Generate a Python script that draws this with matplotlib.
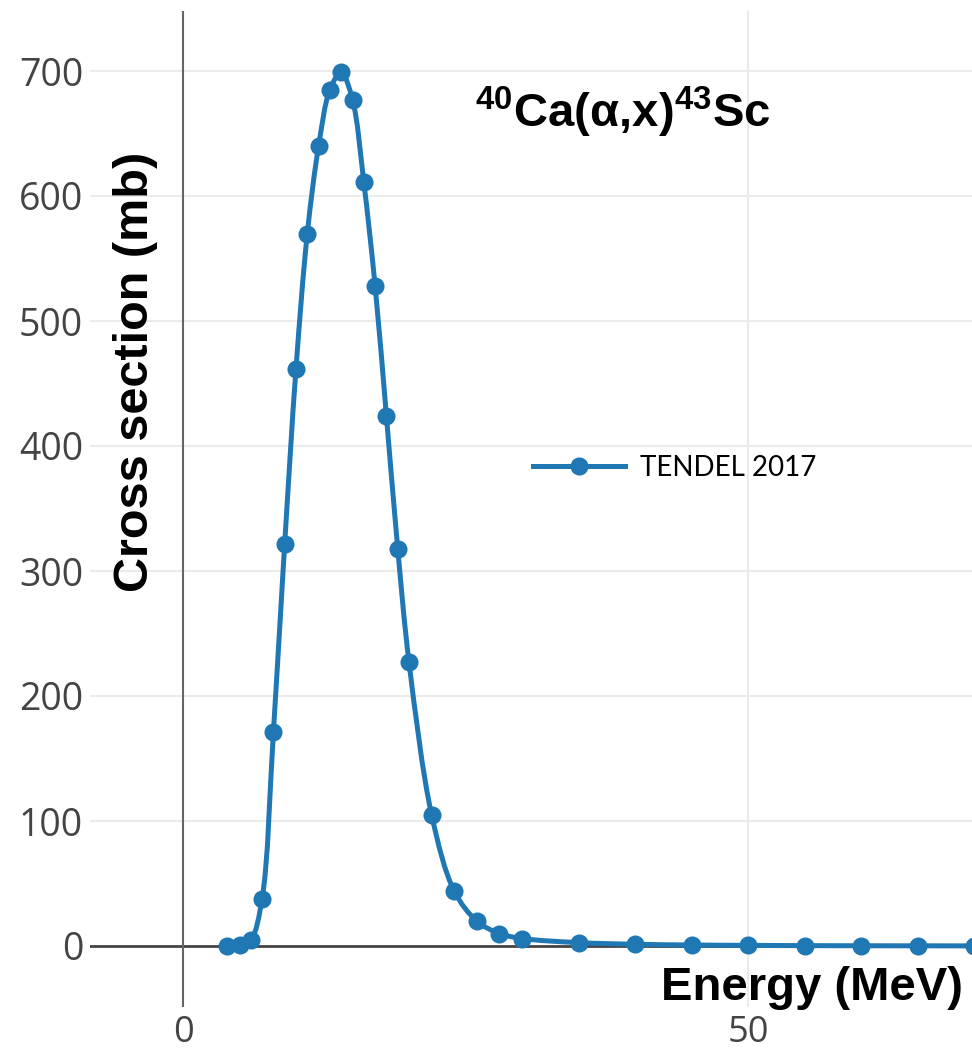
import numpy as np
import matplotlib
matplotlib.use("Agg")
import matplotlib.pyplot as plt
from matplotlib.path import Path
from matplotlib.patches import PathPatch
from matplotlib.lines import Line2D

energy = [3.9, 5, 6, 7, 8, 9, 10, 11, 12, 13, 14, 15, 16, 17, 18, 19, 20,
          22, 24, 26, 28, 30, 35, 40, 45, 50, 55, 60, 65, 70]
xs_mb = [0.1, 0.5, 5, 38, 171, 322, 462, 570, 640, 685, 699, 677, 611, 528, 424, 318, 227,
         105, 44, 20, 10, 6, 2.7, 1.4, 0.8, 0.5, 0.3, 0.2, 0.15, 0.1]
yticks = [0, 100, 200, 300, 400, 500, 600, 700]
xticks = [0, 50]
series_name = "TENDEL 2017"

plt.rcParams["font.family"] = ["Open Sans", "DejaVu Sans"]
plt.rcParams["mathtext.fontset"] = "custom"
plt.rcParams["mathtext.rm"] = "Liberation Sans:bold"
plt.rcParams["mathtext.bf"] = "Liberation Sans:bold"
plt.rcParams["mathtext.it"] = "Liberation Sans:bold"

blue = "#1f77b4"
W, H = 972, 1054
fig = plt.figure(figsize=(W / 100, H / 100), dpi=100)
# plot area in pixels: x 90..972, y 11..1007 (from top)
ax = fig.add_axes([90 / W, (H - 1007) / H, (W - 90) / W, (1007 - 11) / H])
ax.set_xlim(-8.23, 69.82)
ax.set_ylim(-48.8, 748)
for s in ax.spines.values():
    s.set_visible(False)

ax.set_yticks(yticks)
ax.set_xticks(xticks)
ax.tick_params(length=0, labelsize=27, labelcolor="#444444", pad=5)
ax.tick_params(axis="x", pad=6, labelsize=26)

for y in yticks[1:]:
    ax.axhline(y, color="#ebebeb", lw=1.5, zorder=0)
for x in xticks[1:]:
    ax.axvline(x, color="#ebebeb", lw=1.5, zorder=0)
ax.axhline(0, color="#444444", lw=2.0, zorder=1)
ax.axvline(0, color="#666666", lw=1.5, zorder=1)

# plotly-style spline through the points (in display space)
fig.canvas.draw()
pts = ax.transData.transform(np.column_stack([energy, xs_mb]))


def tangent(p0, p1, p2, smooth=1.0):
    d1 = p0 - p1
    d2 = p2 - p1
    d1a = np.hypot(*d1) ** 0.5
    d2a = np.hypot(*d2) ** 0.5
    num = (d2a ** 2 * d1 - d1a ** 2 * d2) * smooth
    den1 = 3 * d2a * (d1a + d2a)
    den2 = 3 * d1a * (d1a + d2a)
    return p1 + num / den1, p1 - num / den2


tans = [tangent(pts[i - 1], pts[i], pts[i + 1]) for i in range(1, len(pts) - 1)]
verts = [pts[0], tans[0][0], pts[1]]
codes = [Path.MOVETO, Path.CURVE3, Path.CURVE3]
for i in range(2, len(pts) - 1):
    verts += [tans[i - 2][1], tans[i - 1][0], pts[i]]
    codes += [Path.CURVE4] * 3
verts += [tans[-1][1], pts[-1]]
codes += [Path.CURVE3] * 2
verts = ax.transData.inverted().transform(np.array(verts))
ax.add_patch(PathPatch(Path(verts, codes), facecolor="none", edgecolor=blue,
                       lw=3.6, capstyle="round", joinstyle="round", zorder=3))
ax.plot(energy, xs_mb, "o", color=blue, ms=13, mew=0, zorder=4)

# labels
fig.text(135 / W, 1 - 372 / H, "Cross section (mb)", rotation=90, ha="center", va="center",
         fontsize=35, fontweight="bold", family="Liberation Sans")
fig.text(963 / W, 1 - 1000 / H, "Energy (MeV)", ha="right", va="baseline",
         fontsize=34, fontweight="bold", family="Liberation Sans")
fig.text(475 / W, 1 - 127 / H, r"$^{40}$Ca(α,x)$^{43}$Sc", ha="left", va="baseline",
         fontsize=34, fontweight="bold", family="Liberation Sans")

handle = Line2D([], [], color=blue, lw=3.6, marker="o", ms=13, mew=0)
fs = 20
fpx = fs * 100 / 72
leg = ax.legend([handle], [series_name], loc="center left",
                bbox_to_anchor=(533 / W, 1 - 468 / H), bbox_transform=fig.transFigure,
                frameon=False, borderpad=0, borderaxespad=0,
                handlelength=92 / fpx, handletextpad=15 / fpx,
                prop={"family": "Lato", "size": fs})

fig.savefig("out.png", dpi=100)
